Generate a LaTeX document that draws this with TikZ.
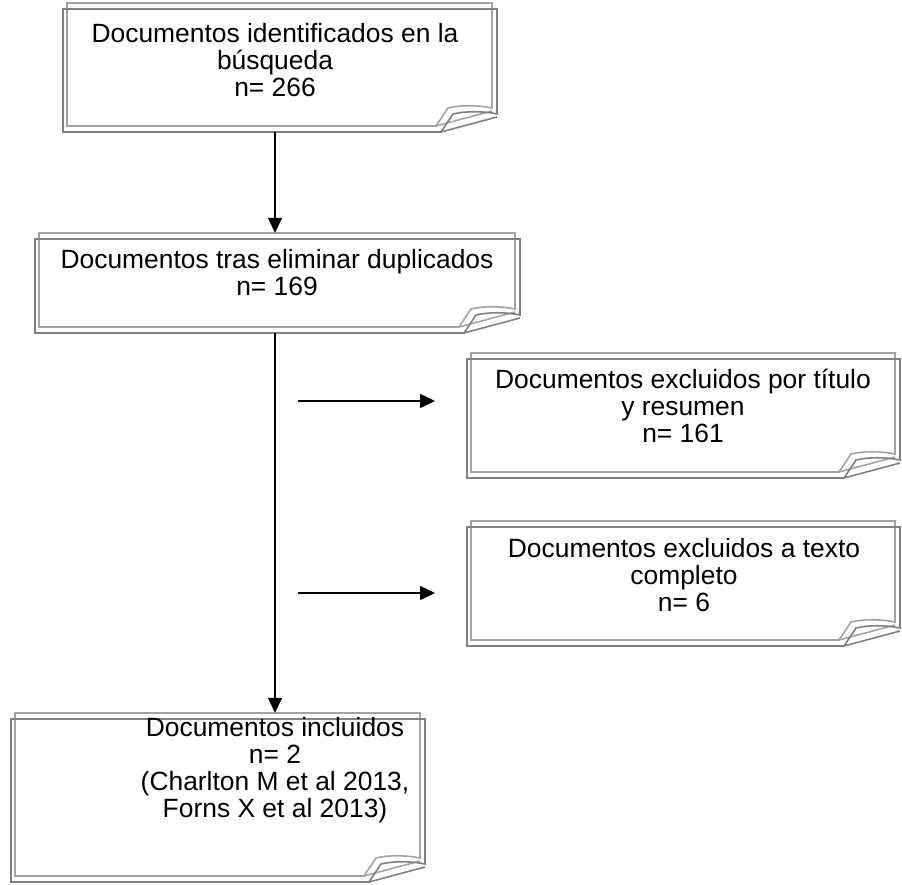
\documentclass[tikz,border=0pt]{standalone}
\usepackage{fontspec}
\setmainfont{Liberation Sans}
\usetikzlibrary{arrows.meta,fit}
\tikzset{
  x=1pt, y=-1pt,
  sheetA/.style={draw=black!36, line width=1.6pt, line join=miter},
  sheetB/.style={draw=black!50, line width=1.6pt, line join=miter},
  lbl/.style={align=center, inner sep=0pt, anchor=north, font=\fontsize{26.4}{27}\selectfont},
  frame/.style={inner sep=0pt, draw=none},
  arr/.style={line width=1.5pt, -{Triangle[length=15pt,width=14pt]}},
}
\newcommand\sheetpath[5]{%
  \draw[#1] (#2,#3) -- (#4,#3) -- (#4,#5-18)
    .. controls (#4-14,#5-21) and (#4-32,#5-21) .. (#4-44,#5-18)
    -- (#4-56,#5) -- (#2,#5) -- cycle;
  \draw[#1] (#4-56,#5) -- (#4,#5-15);
}
\newcommand\paperbox[4]{%
  \sheetpath{sheetA}{#1+4}{#2}{#3-5}{#4-6}%
  \sheetpath{sheetB}{#1}{#2+6}{#3}{#4}%
}
\begin{document}
\begin{tikzpicture}
\useasboundingbox (0,0) rectangle (902,884);
% frames (for anchors)
\node[frame, fit={(63,3) (497,132)}] (box1) {};
\node[frame, fit={(35,233) (520,333)}] (box2) {};
\node[frame, fit={(467,353) (900,478)}] (box3) {};
\node[frame, fit={(467,521) (900,646)}] (box4) {};
\node[frame, fit={(11,713) (425,882)}] (box5) {};
% outlines
\paperbox{63}{3}{497}{132}
\paperbox{35}{233}{520}{333}
\paperbox{467}{353}{900}{478}
\paperbox{467}{521}{900}{646}
\paperbox{11}{713}{425}{882}
% texts
\node[lbl] (t1) at (275,42-19) {Documentos identificados en la\\búsqueda\\n= 266};
\node[lbl] (t2) at (277,268-19) {Documentos tras eliminar duplicados\\n= 169};
\node[lbl] (t3) at (683,388-19) {Documentos excluidos por título\\y resumen\\n= 161};
\node[lbl] (t4) at (684,557-19) {Documentos excluidos a texto\\completo\\n= 6};
\node[lbl] (t5) at (275,736-19) {Documentos incluidos\\n= 2\\(Charlton M et al 2013,\\Forns X et al 2013)};
% connectors
\draw[arr] (box1.south -| t5.north) -- (box2.north -| t5.north);
\draw[arr] (box2.south -| t5.north) -- (box5.north -| t5.north);
\coordinate (h1s) at (298,401);
\coordinate (h1e) at (435,401);
\coordinate (h2s) at (298,593);
\coordinate (h2e) at (435,593);
\draw[arr] (h1s) -- (h1e);
\draw[arr] (h2s) -- (h2e);
\end{tikzpicture}
\end{document}
